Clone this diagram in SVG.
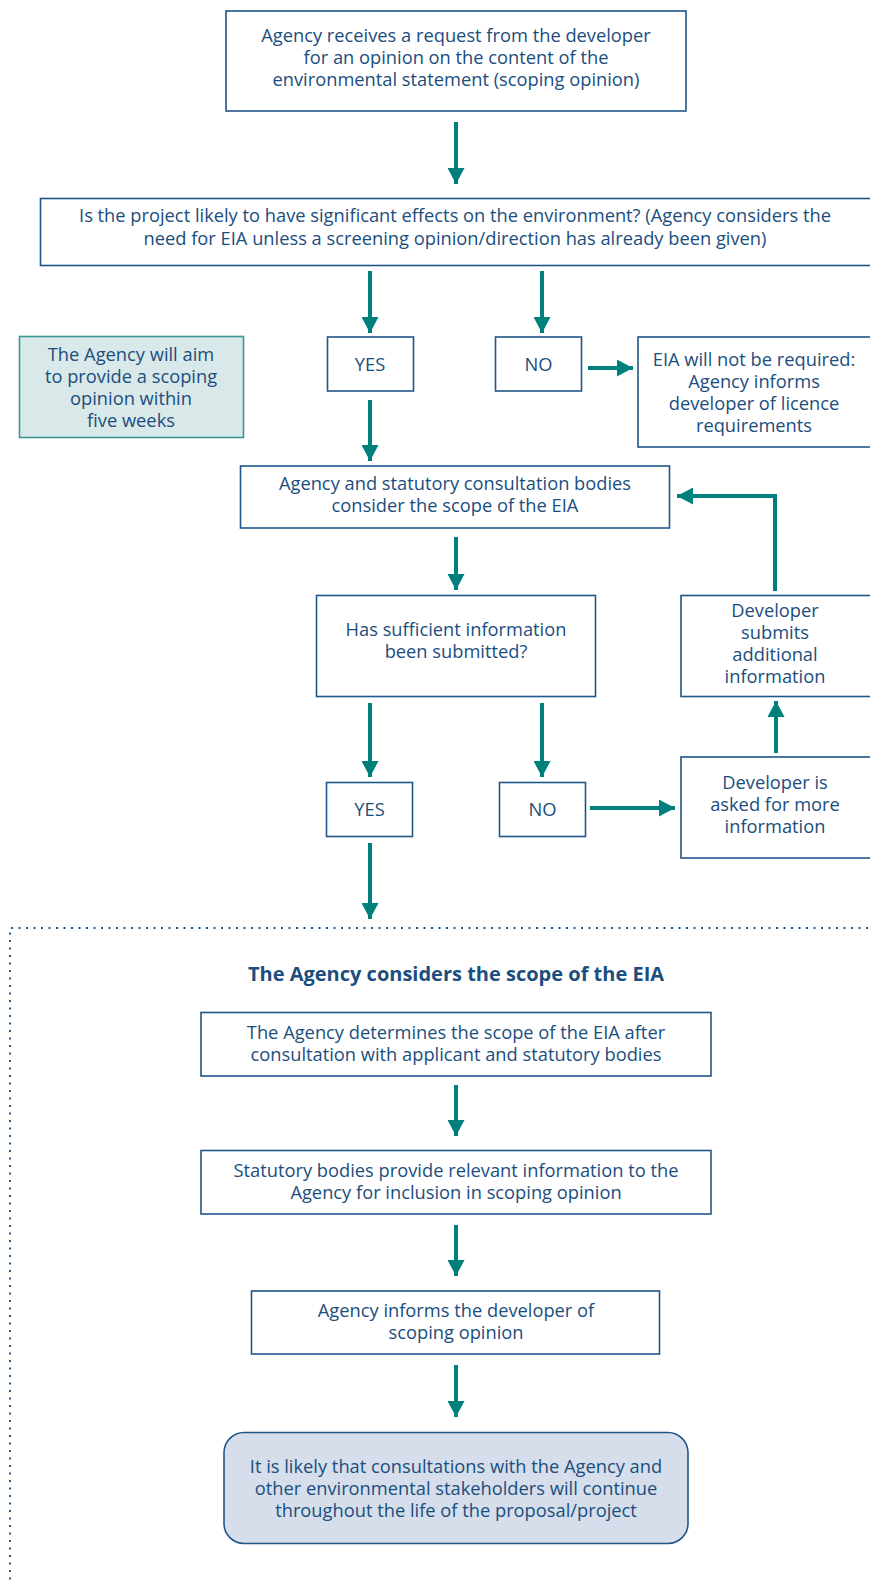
<svg xmlns="http://www.w3.org/2000/svg" width="870" height="1584" viewBox="0 0 870 1584">
  <style>
    .box { fill: #ffffff; stroke: #1f5689; stroke-width: 1.6; }
    .note { fill: #d9e8e8; stroke: #3a9896; stroke-width: 1.6; }
    .final { fill: #d5deea; stroke: #1f5689; stroke-width: 1.6; }
    .t { font-family: "Open Sans", "Liberation Sans", sans-serif; font-size: 18.3px; fill: #1b4e7e; text-anchor: middle; }
    .h { font-family: "Open Sans", "Liberation Sans", sans-serif; font-size: 20px; font-weight: bold; fill: #1b4e7e; text-anchor: middle; }
    .arrow { fill: none; stroke: #00807c; stroke-width: 4; marker-end: url(#head); }
    .dots { fill: none; stroke: #1f5689; stroke-width: 2; stroke-dasharray: 2 5.5; }
  </style>
  <defs>
    <marker id="head" markerUnits="userSpaceOnUse" markerWidth="17" markerHeight="17" refX="16" refY="8.5" orient="auto" viewBox="0 0 17 17">
      <path d="M0,0 L16,8.5 L0,17 Z" fill="#00807c"/>
    </marker>
  </defs>

  <!-- connectors -->
  <g id="connectors">
    <line class="arrow" x1="456" y1="122" x2="456" y2="184"/>
    <line class="arrow" x1="370" y1="271" x2="370" y2="333"/>
    <line class="arrow" x1="542" y1="271" x2="542" y2="333"/>
    <line class="arrow" x1="588" y1="368" x2="633" y2="368"/>
    <line class="arrow" x1="370" y1="400" x2="370" y2="461"/>
    <polyline class="arrow" points="775,591 775,496 677,496"/>
    <line class="arrow" x1="456" y1="537" x2="456" y2="590"/>
    <line class="arrow" x1="370" y1="703" x2="370" y2="777"/>
    <line class="arrow" x1="542" y1="703" x2="542" y2="777"/>
    <line class="arrow" x1="590" y1="808" x2="675" y2="808"/>
    <line class="arrow" x1="776" y1="753" x2="776" y2="701"/>
    <line class="arrow" x1="370" y1="843" x2="370" y2="919"/>
    <line class="arrow" x1="456" y1="1085" x2="456" y2="1136"/>
    <line class="arrow" x1="456" y1="1225" x2="456" y2="1276"/>
    <line class="arrow" x1="456" y1="1365" x2="456" y2="1417"/>
  </g>

  <!-- dotted frame around the scoping stage -->
  <g id="scope-frame">
    <path class="dots" d="M868,928 L10,928 L10,1584"/>
  </g>

  <g id="request">
    <rect class="box" x="226" y="11" width="460" height="100"/>
    <text class="t" x="456" y="42">Agency receives a request from the developer</text>
    <text class="t" x="456" y="64">for an opinion on the content of the</text>
    <text class="t" x="456" y="86">environmental statement (scoping opinion)</text>
  </g>

  <g id="significant">
    <rect class="box" x="40.5" y="198.5" width="840" height="67"/>
    <text class="t" x="455" y="221.5">Is the project likely to have significant effects on the environment? (Agency considers the</text>
    <text class="t" x="455" y="244.5">need for EIA unless a screening opinion/direction has already been given)</text>
  </g>

  <g id="aim-note">
    <rect class="note" x="19.5" y="336.5" width="224" height="101"/>
    <text class="t" x="131" y="361">The Agency will aim</text>
    <text class="t" x="131" y="383">to provide a scoping</text>
    <text class="t" x="131" y="405">opinion within</text>
    <text class="t" x="131" y="427">five weeks</text>
  </g>

  <g id="yes-1">
    <rect class="box" x="327.5" y="337" width="86" height="54"/>
    <text class="t" x="370" y="370.5">YES</text>
  </g>

  <g id="no-1">
    <rect class="box" x="495.5" y="337" width="86" height="54"/>
    <text class="t" x="538.5" y="370.5">NO</text>
  </g>

  <g id="not-required">
    <rect class="box" x="638" y="337" width="240" height="110"/>
    <text class="t" x="754" y="365.5">EIA will not be required:</text>
    <text class="t" x="754" y="387.5">Agency informs</text>
    <text class="t" x="754" y="409.5">developer of licence</text>
    <text class="t" x="754" y="431.5">requirements</text>
  </g>

  <g id="consider-scope">
    <rect class="box" x="240.5" y="466" width="429" height="62"/>
    <text class="t" x="455" y="489.5">Agency and statutory consultation bodies</text>
    <text class="t" x="455" y="511.5">consider the scope of the EIA</text>
  </g>

  <g id="sufficient">
    <rect class="box" x="316.5" y="595.5" width="279" height="101"/>
    <text class="t" x="456" y="635.5">Has sufficient information</text>
    <text class="t" x="456" y="657.5">been submitted?</text>
  </g>

  <g id="submits">
    <rect class="box" x="681" y="595.5" width="200" height="101"/>
    <text class="t" x="775" y="616.75">Developer</text>
    <text class="t" x="775" y="638.75">submits</text>
    <text class="t" x="775" y="660.75">additional</text>
    <text class="t" x="775" y="682.75">information</text>
  </g>

  <g id="yes-2">
    <rect class="box" x="326.5" y="782.5" width="86" height="54"/>
    <text class="t" x="369.5" y="815.5">YES</text>
  </g>

  <g id="no-2">
    <rect class="box" x="499.5" y="782.5" width="86" height="54"/>
    <text class="t" x="542.5" y="815.5">NO</text>
  </g>

  <g id="asked">
    <rect class="box" x="681" y="757" width="200" height="101"/>
    <text class="t" x="775" y="788.5">Developer is</text>
    <text class="t" x="775" y="810.5">asked for more</text>
    <text class="t" x="775" y="832.5">information</text>
  </g>

  <g id="scope-heading">
    <text class="h" x="456" y="981">The Agency considers the scope of the EIA</text>
  </g>

  <g id="determines">
    <rect class="box" x="201" y="1012.5" width="510" height="63.5"/>
    <text class="t" x="456" y="1038.5">The Agency determines the scope of the EIA after</text>
    <text class="t" x="456" y="1060.5">consultation with applicant and statutory bodies</text>
  </g>

  <g id="statutory-info">
    <rect class="box" x="201" y="1150.5" width="510" height="63.5"/>
    <text class="t" x="456" y="1177">Statutory bodies provide relevant information to the</text>
    <text class="t" x="456" y="1199">Agency for inclusion in scoping opinion</text>
  </g>

  <g id="informs">
    <rect class="box" x="251.5" y="1291" width="408" height="63"/>
    <text class="t" x="456" y="1316.5">Agency informs the developer of</text>
    <text class="t" x="456" y="1338.5">scoping opinion</text>
  </g>

  <g id="continue">
    <rect class="final" x="224" y="1432.5" width="464" height="111" rx="20" ry="20"/>
    <text class="t" x="456" y="1473">It is likely that consultations with the Agency and</text>
    <text class="t" x="456" y="1495">other environmental stakeholders will continue</text>
    <text class="t" x="456" y="1517">throughout the life of the proposal/project</text>
  </g>
</svg>
